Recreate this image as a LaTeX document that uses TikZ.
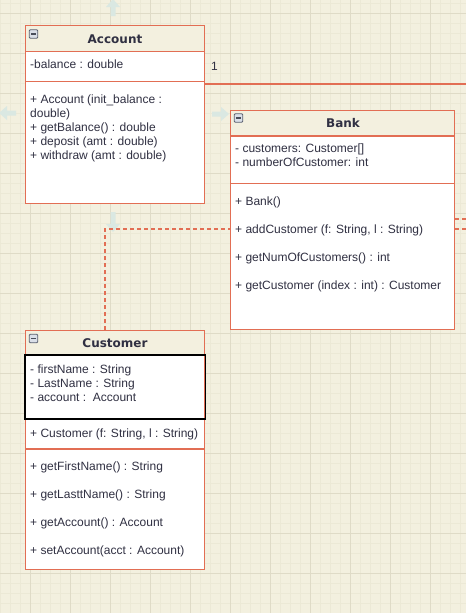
\documentclass[tikz,border=0pt]{standalone}
\usepackage{fontspec}
\setmainfont{Liberation Sans}
\newfontfamily\titlefont{DejaVu Sans}
\usetikzlibrary{calc}
\definecolor{bg}{RGB}{243,240,223}
\definecolor{gminor}{RGB}{236,233,214}
\definecolor{gmajor}{RGB}{223,219,199}
\definecolor{bord}{RGB}{226,110,84}
\definecolor{txtc}{RGB}{48,48,66}
\definecolor{ghostc}{RGB}{218,232,226}
\definecolor{iconfill}{RGB}{218,223,232}
\definecolor{iconbord}{RGB}{90,96,112}
\begin{document}
\begin{tikzpicture}[x=1pt,y=-1pt,
  box/.style={draw=bord, fill=white, line width=1.2pt, inner sep=0pt, anchor=north west},
  sep/.style={draw=bord, line width=1.2pt},
  txt/.style={text=txtc, font=\fontsize{12}{14}\selectfont, inner sep=0pt, anchor=base west},
  ttl/.style={text=txtc, font=\titlefont\bfseries\fontsize{12}{14}\selectfont, inner sep=0pt, anchor=base},
  minbox/.style={draw=iconbord, fill=iconfill, line width=0.8pt, rounded corners=1pt, minimum size=8.5pt, inner sep=0pt},
  minus/.style={draw=iconbord!80!black, line width=1.2pt},
  minorg/.style={draw=gminor, line width=0.6pt},
  majorg/.style={draw=gmajor, line width=1pt},
  assoc/.style={draw=bord, line width=1.2pt},
  dep/.style={draw=bord, line width=1.2pt, dash pattern=on 4pt off 3pt},
  ghost/.style={fill=ghostc}
]
\useasboundingbox (0,0) rectangle (466,613);
\fill[bg] (0,0) rectangle (466,613);
% grid
\foreach \x in {0,10,...,460} \draw[minorg] (\x,0) -- (\x,613);
\foreach \y in {3,13,...,613} \draw[minorg] (0,\y) -- (466,\y);
\foreach \x in {30,70,...,430} \draw[majorg] (\x,0) -- (\x,613);
\foreach \y in {13,53,...,613} \draw[majorg] (0,\y) -- (466,\y);

% ghost connection arrows
\fill[ghost] (113,-1) -- (120,7) -- (115.5,7) -- (115.5,16) -- (110.5,16) -- (110.5,7) -- (106,7) -- cycle;
\fill[ghost] (-1,113) -- (7,106) -- (7,110.5) -- (16,110.5) -- (16,115.5) -- (7,115.5) -- (7,120) -- cycle;
\fill[ghost] (229,114) -- (221,107) -- (221,111.5) -- (212,111.5) -- (212,116.5) -- (221,116.5) -- (221,121) -- cycle;
\fill[ghost] (113,232) -- (120,224) -- (115.5,224) -- (115.5,212) -- (110.5,212) -- (110.5,224) -- (106,224) -- cycle;

% connectors
\coordinate (accR) at (466,84);
\coordinate (bend) at (105,229);
\coordinate (r1) at (466,219);
\coordinate (r2) at (466,229);

% ---------- Account ----------
\node[box, minimum width=179pt, minimum height=178pt] (account) at (25,25) {};
\fill[bg] ([shift={(0.6,0.6)}]account.north west) rectangle ($(account.north east)+(-0.6,26.5)$);
\draw[sep] ($(account.north west)+(0,26.5)$) -- ($(account.north east)+(0,26.5)$);
\draw[sep] ($(account.north west)+(0,56.5)$) -- ($(account.north east)+(0,56.5)$);
\node[draw=bord, line width=1.2pt, inner sep=0pt, anchor=north west, minimum width=179pt, minimum height=178pt] (accountb) at (25,25) {};
\node[minbox] (accmin) at (33.5,34) {};
\draw[minus] ($(accmin.center)+(-2.5,0)$) -- ($(accmin.center)+(2.5,0)$);
\node[ttl] (acct) at (115,43) {Account};
\node[txt] (acca1) at (30,68) {-balance : double};
\node[txt] (accm1) at (30,103) {+ Account (init\_balance :};
\node[txt] (accm2) at (30,117) {double)};
\node[txt] (accm3) at (30,131) {+ getBalance() : double};
\node[txt] (accm4) at (30,145) {+ deposit (amt : double)};
\node[txt] (accm5) at (30,159) {+ withdraw (amt : double)};

% ---------- Bank ----------
\node[box, minimum width=224pt, minimum height=219pt] (bank) at (230,110) {};
\fill[bg] ([shift={(0.6,0.6)}]bank.north west) rectangle ($(bank.north east)+(-0.6,26)$);
\draw[sep] ($(bank.north west)+(0,26)$) -- ($(bank.north east)+(0,26)$);
\draw[sep] ($(bank.north west)+(0,73.5)$) -- ($(bank.north east)+(0,73.5)$);
\node[draw=bord, line width=1.2pt, inner sep=0pt, anchor=north west, minimum width=224pt, minimum height=219pt] (bankb) at (230,110) {};
\node[minbox] (bankmin) at (238.5,118) {};
\draw[minus] ($(bankmin.center)+(-2.5,0)$) -- ($(bankmin.center)+(2.5,0)$);
\node[ttl] (bankt) at (343,127) {Bank};
\node[txt] (banka1) at (235,152) {- customers: Customer[]};
\node[txt] (banka2) at (235,166) {- numberOfCustomer: int};
\node[txt] (bankm1) at (235,205) {+ Bank()};
\node[txt] (bankm2) at (235,233) {+ addCustomer (f: String, l : String)};
\node[txt] (bankm3) at (235,261) {+ getNumOfCustomers() : int};
\node[txt] (bankm4) at (235,289) {+ getCustomer (index : int) : Customer};

% ---------- Customer ----------
\node[box, minimum width=179pt, minimum height=239pt] (customer) at (25,330) {};
\fill[bg] ([shift={(0.6,0.6)}]customer.north west) rectangle ($(customer.north east)+(-0.6,25)$);
\draw[sep] ($(customer.north west)+(0,119)$) -- ($(customer.north east)+(0,119)$);
\node[draw=bord, line width=1.2pt, inner sep=0pt, anchor=north west, minimum width=179pt, minimum height=239pt] (customerb) at (25,330) {};
\draw[black, line width=1.2pt] ($(customer.north west)+(0,25)$) rectangle ($(customer.north east)+(0,89)$);
\node[minbox] (custmin) at (33.5,338.5) {};
\draw[minus] ($(custmin.center)+(-2.5,0)$) -- ($(custmin.center)+(2.5,0)$);
\node[ttl] (custt) at (115,347) {Customer};
\node[txt] (custa1) at (30,373) {- firstName : String};
\node[txt] (custa2) at (30,387) {- LastName : String};
\node[txt] (custa3) at (30,401) {- account :\ \ Account};
\node[txt] (custc1) at (30,437) {+ Customer (f: String, l : String)};
\node[txt] (custm1) at (30,470) {+ getFirstName() : String};
\node[txt] (custm2) at (30,498) {+ getLasttName() : String};
\node[txt] (custm3) at (30,526) {+ getAccount() : Account};
\node[txt] (custm4) at (30,554) {+ setAccount(acct : Account)};

% ---------- connectors ----------
\draw[assoc] (account.east |- accR) -- (accR);
\node[txt] (mult) at (211,70) {1};
\draw[dep] (customer.north -| bend) -- (bend) -- (bank.west |- bend);
\draw[dep] (bank.east |- r1) -- (r1);
\draw[dep] (bank.east |- r2) -- (r2);
\end{tikzpicture}
\end{document}
